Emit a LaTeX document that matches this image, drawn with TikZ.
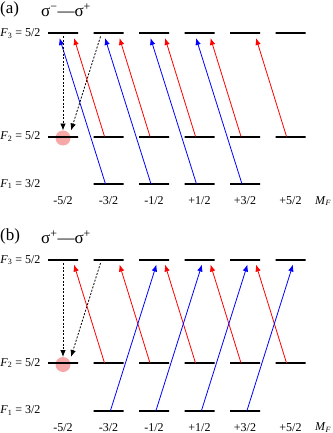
\documentclass[tikz,border=0pt]{standalone}
\usepackage{fontspec}
\setmainfont{Liberation Serif}
\usepackage{tikz}
\usetikzlibrary{
  arrows.meta,
  calc,
  positioning
}
\definecolor{PumpPink}{HTML}{F6A8A8}

\begin{document}
\begin{tikzpicture}[
  x=1pt,y=-1pt,
  every node/.style={font=\fontsize{12}{14}\selectfont},
  level/.style={draw,line width=2pt,minimum width=30pt,
    minimum height=0pt,inner sep=0pt},
  pump/.style={circle,fill=PumpPink,minimum size=15pt,inner sep=0pt},
  title/.style={font=\fontsize{17}{19}\selectfont},
  blueline/.style={-{Latex[length=7pt,width=5.5pt]},line width=0.8pt,
    color=blue},
  redline/.style={-{Latex[length=7pt,width=5.5pt]},line width=0.8pt,
    color=red},
  decay/.style={-{Latex[length=7pt,width=5.5pt]},line width=0.8pt,
    dash pattern=on 2pt off 1.5pt}
]
\useasboundingbox (0,0) rectangle (332,433);

% optical pumping spot
\node[pump] (apump) at (63,138) {};
\node[pump] (bpump) at (63,364.5) {};

% Zeeman sublevels of both panels
\foreach \p/\dy in {a/0,b/226.5} {
  \foreach \i in {1,...,6} {
    \node[level] (\p3\i) at ({63+45.5*(\i-1)},{33.5+\dy}) {};
    \node[level] (\p2\i) at ({63+45.5*(\i-1)},{136.5+\dy}) {};
  }
  \foreach \i in {2,...,5}
    \node[level] (\p1\i) at ({63+45.5*(\i-1)},{184+\dy}) {};
  \foreach \i/\m in {1/-5\slash 2,2/-3\slash 2,3/-1\slash 2,
      4/+1\slash 2,5/+3\slash 2,6/+5\slash 2}
    \node (\p m\i) at ({63+45.5*(\i-1)},{201+\dy}) {\m};
  \node (\p mF) at (323,{201+\dy}) {\textit{M}\textsubscript{\textit{F}}};
  \node[anchor=east] (\p F3) at (44,{33.5+\dy})
    {\textit{F}\textsubscript{3} = 5/2};
  \node[anchor=east] (\p F2) at (44,{136.5+\dy})
    {\textit{F}\textsubscript{2} = 5/2};
  \node[anchor=east] (\p F1) at (44,{184+\dy})
    {\textit{F}\textsubscript{1} = 3/2};
}

\node[title,anchor=west,inner sep=0pt] (alabel) at (0,9.5) {(a)};
\node[title,inner sep=0pt] (atitle) at (66,10.5)
  {σ\textsuperscript{−}—σ\textsuperscript{+}};
\node[title,anchor=west,inner sep=0pt] (blabel) at (0,236) {(b)};
\node[title,inner sep=0pt] (btitle) at (66,237)
  {σ\textsuperscript{+}—σ\textsuperscript{+}};

% (a)
\draw[redline] ([xshift=-4pt]a22.center) -- ([xshift=11pt,yshift=-4.5pt]a31.center);
\draw[redline] ([xshift=-4pt]a23.center) -- ([xshift=11pt,yshift=-4.5pt]a32.center);
\draw[redline] ([xshift=-4pt]a24.center) -- ([xshift=11pt,yshift=-4.5pt]a33.center);
\draw[redline] ([xshift=-4pt]a25.center) -- ([xshift=11pt,yshift=-4.5pt]a34.center);
\draw[redline] ([xshift=-4pt]a26.center) -- ([xshift=11pt,yshift=-4.5pt]a35.center);
\draw[blueline] ([xshift=-3pt]a12.center) -- ([xshift=-3.5pt,yshift=-4.5pt]a31.center);
\draw[blueline] ([xshift=-3pt]a13.center) -- ([xshift=-3.5pt,yshift=-4.5pt]a32.center);
\draw[blueline] ([xshift=-3pt]a14.center) -- ([xshift=-3.5pt,yshift=-4.5pt]a33.center);
\draw[blueline] ([xshift=-3pt]a15.center) -- ([xshift=-3.5pt,yshift=-4.5pt]a34.center);
\draw[decay] ([yshift=-3pt]a31.center) -- ([yshift=6pt]a21.center);
\draw[decay] ([xshift=-8pt,yshift=-3pt]a32.center) -- ([xshift=8pt,yshift=6pt]a21.center);

% (b)
\draw[redline] ([xshift=-4pt]b22.center) -- ([xshift=11pt,yshift=-4.5pt]b31.center);
\draw[redline] ([xshift=-4pt]b23.center) -- ([xshift=11pt,yshift=-4.5pt]b32.center);
\draw[redline] ([xshift=-4pt]b24.center) -- ([xshift=11pt,yshift=-4.5pt]b33.center);
\draw[redline] ([xshift=-4pt]b25.center) -- ([xshift=11pt,yshift=-4.5pt]b34.center);
\draw[redline] ([xshift=-4pt]b26.center) -- ([xshift=11pt,yshift=-4.5pt]b35.center);
\draw[blueline] ([xshift=2pt]b12.center) -- ([xshift=2.5pt,yshift=-4.5pt]b33.center);
\draw[blueline] ([xshift=2pt]b13.center) -- ([xshift=2.5pt,yshift=-4.5pt]b34.center);
\draw[blueline] ([xshift=2pt]b14.center) -- ([xshift=2.5pt,yshift=-4.5pt]b35.center);
\draw[blueline] ([xshift=2pt]b15.center) -- ([xshift=2.5pt,yshift=-4.5pt]b36.center);
\draw[decay] ([yshift=-3pt]b31.center) -- ([yshift=6pt]b21.center);
\draw[decay] ([xshift=-8pt,yshift=-3pt]b32.center) -- ([xshift=8pt,yshift=6pt]b21.center);
\end{tikzpicture}
\end{document}
